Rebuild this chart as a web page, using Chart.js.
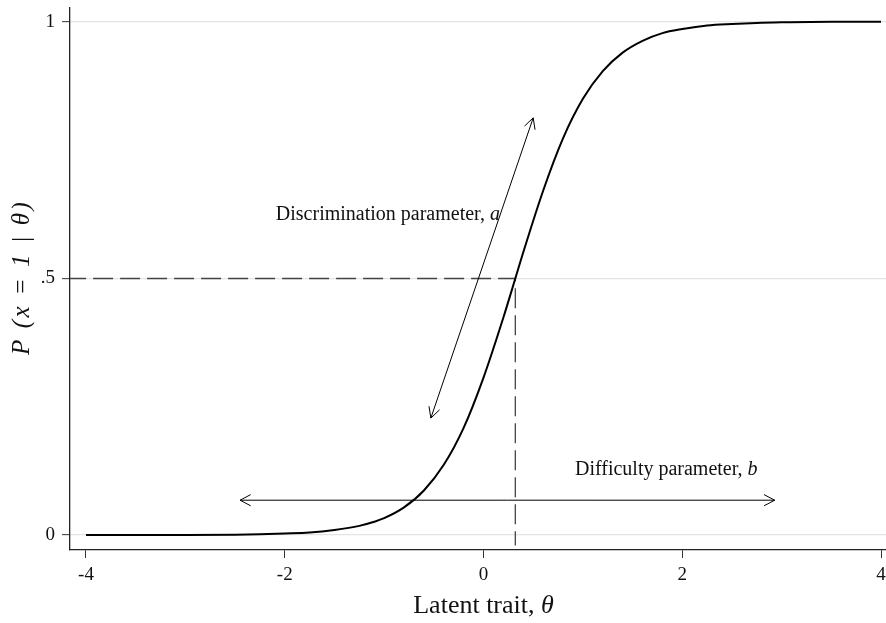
<!DOCTYPE html>
<html>
<head>
<meta charset="utf-8">
<script src="https://cdn.jsdelivr.net/npm/chart.js@4.4.1/dist/chart.umd.min.js"></script>
<style>
    html, body { margin: 0; padding: 0; background: #fff; }
    #wrap { width: 886px; height: 623px; }
</style>
</head>
<body>
<div id="wrap"><canvas id="myChart" width="886" height="623"></canvas></div>
<script>
const thetaVals = [-4, -3.5, -3, -2.5, -2.25, -2, -1.75, -1.5, -1.25, -1.1, -1, -0.8, -0.6, -0.4, -0.2, 0, 0.2, 0.32, 0.4, 0.6, 0.8, 1, 1.2, 1.4, 1.6, 1.8, 2, 2.25, 2.5, 2.75, 3, 3.5, 4];
const probVals = [0, 0.0001, 0.0002, 0.0008, 0.0015, 0.003, 0.005, 0.01, 0.018, 0.026, 0.033, 0.054, 0.087, 0.137, 0.209, 0.307, 0.424, 0.5, 0.551, 0.671, 0.773, 0.85, 0.904, 0.94, 0.963, 0.978, 0.986, 0.993, 0.996, 0.998, 0.999, 1, 1];

// dashed guide through the difficulty point
const guideX = [-4.2, 0.32, 0.32];
const guideY = [0.5, 0.5, -0.02];

// double headed arrows
const discArrowX = [-0.53, 0.50];
const discArrowY = [0.228, 0.813];
const diffArrowX = [-2.45, 2.93];
const diffArrowY = [0.068, 0.068];

const xTicks = [-4, -2, 0, 2, 4];
const xTickLabels = ['-4', '-2', '0', '2', '4'];
const yTicks = [0, 0.5, 1];
const yTickLabels = ['0', '.5', '1'];

const serif = '"Liberation Serif", "Times New Roman", serif';

function zip(xs, ys) {
    return xs.map(function (v, i) { return {x: v, y: ys[i]}; });
}

// draws a run of text pieces, some of them italic, starting at x
function drawParts(ctx, parts, x, y, size, gap) {
    let cx = x;
    gap = gap || 0;
    parts.forEach(function (p) {
        ctx.font = (p.it ? 'italic ' : '') + size + 'px ' + serif;
        if (!gap) {
            ctx.fillText(p.t, cx, y);
            cx += ctx.measureText(p.t).width;
            return;
        }
        for (const ch of p.t) {
            ctx.fillText(ch, cx, y);
            cx += ctx.measureText(ch).width + gap;
        }
    });
}

function partsWidth(ctx, parts, size, gap) {
    let w = 0;
    gap = gap || 0;
    parts.forEach(function (p) {
        ctx.font = (p.it ? 'italic ' : '') + size + 'px ' + serif;
        w += ctx.measureText(p.t).width + gap * p.t.length;
    });
    return w - gap;
}

function arrowHead(ctx, fx, fy, tx, ty) {
    const ang = Math.atan2(ty - fy, tx - fx);
    const len = 12, spread = Math.PI / 6.5;
    ctx.beginPath();
    ctx.moveTo(tx - len * Math.cos(ang - spread), ty - len * Math.sin(ang - spread));
    ctx.lineTo(tx, ty);
    ctx.lineTo(tx - len * Math.cos(ang + spread), ty - len * Math.sin(ang + spread));
    ctx.stroke();
}

function doubleArrow(ctx, x1, y1, x2, y2) {
    ctx.beginPath();
    ctx.moveTo(x1, y1);
    ctx.lineTo(x2, y2);
    ctx.stroke();
    arrowHead(ctx, x1, y1, x2, y2);
    arrowHead(ctx, x2, y2, x1, y1);
}

const overlay = {
    id: 'overlay',
    afterDatasetsDraw(chart) {
        const ctx = chart.ctx;
        const xs = chart.scales.x, ys = chart.scales.y;
        ctx.save();
        ctx.strokeStyle = '#000';
        ctx.lineWidth = 1;
        doubleArrow(ctx,
            xs.getPixelForValue(discArrowX[0]), ys.getPixelForValue(discArrowY[0]),
            xs.getPixelForValue(discArrowX[1]), ys.getPixelForValue(discArrowY[1]));
        doubleArrow(ctx,
            xs.getPixelForValue(diffArrowX[0]), ys.getPixelForValue(diffArrowY[0]),
            xs.getPixelForValue(diffArrowX[1]), ys.getPixelForValue(diffArrowY[1]));

        ctx.fillStyle = '#111';
        ctx.textBaseline = 'middle';
        ctx.textAlign = 'left';
        drawParts(ctx, [{t: 'Discrimination parameter, '}, {t: 'a', it: true}],
            xs.getPixelForValue(-2.09), ys.getPixelForValue(0.625), 20);
        drawParts(ctx, [{t: 'Difficulty parameter, '}, {t: 'b', it: true}],
            xs.getPixelForValue(0.92), ys.getPixelForValue(0.127), 20);
        ctx.restore();
    },
    afterDraw(chart) {
        const ctx = chart.ctx;
        const xs = chart.scales.x, ys = chart.scales.y;
        ctx.save();
        ctx.fillStyle = '#111';

        // tick labels
        ctx.font = '19px ' + serif;
        ctx.textBaseline = 'middle';
        ctx.textAlign = 'center';
        xTicks.forEach(function (v, i) {
            ctx.fillText(xTickLabels[i], xs.getPixelForValue(v), chart.chartArea.bottom + 25);
        });
        ctx.textAlign = 'right';
        yTicks.forEach(function (v, i) {
            ctx.fillText(yTickLabels[i], chart.chartArea.left - 15, ys.getPixelForValue(v));
        });

        // x axis title
        ctx.textAlign = 'left';
        const xt = [{t: 'Latent trait, '}, {t: '\u03b8', it: true}];
        const w = partsWidth(ctx, xt, 26);
        drawParts(ctx, xt, xs.getPixelForValue(0) - w / 2, 606, 26);

        // y axis title, rotated
        const yt = [{t: 'P (x = 1 | \u03b8)', it: true}];
        const wy = partsWidth(ctx, yt, 25, 2.5);
        ctx.translate(22, ys.getPixelForValue(0.5));
        ctx.rotate(-Math.PI / 2);
        drawParts(ctx, yt, -wy / 2, 0, 25, 2.5);
        ctx.restore();
    }
};

const config = {
    type: 'scatter',
    data: {
        datasets: [
            {
                data: zip(thetaVals, probVals),
                showLine: true,
                borderColor: '#000',
                borderWidth: 2,
                pointRadius: 0,
                cubicInterpolationMode: 'monotone'
            },
            {
                data: zip(guideX, guideY),
                showLine: true,
                borderColor: '#444',
                borderWidth: 1.3,
                borderDash: [20, 7],
                pointRadius: 0
            }
        ]
    },
    options: {
        responsive: false,
        animation: false,
        layout: {padding: {top: 8, right: 0, left: 0, bottom: 0}},
        plugins: {
            legend: {display: false},
            tooltip: {enabled: false}
        },
        scales: {
            x: {
                type: 'linear',
                min: -4.161,
                max: 4.05,
                afterBuildTicks: function (axis) {
                    axis.ticks = xTicks.map(function (v) { return {value: v}; });
                },
                afterFit: function (axis) { axis.height = 73; },
                grid: {
                    drawOnChartArea: false,
                    tickLength: 8,
                    tickColor: '#333',
                    tickWidth: 1
                },
                border: {color: '#222', width: 1.3},
                ticks: {display: false}
            },
            y: {
                type: 'linear',
                min: -0.029,
                max: 1.027,
                afterBuildTicks: function (axis) {
                    axis.ticks = yTicks.map(function (v) { return {value: v}; });
                },
                afterFit: function (axis) { axis.width = 70; },
                grid: {
                    color: '#e4e4e4',
                    lineWidth: 1.3,
                    tickLength: 8,
                    tickColor: '#333',
                    tickWidth: 1
                },
                border: {color: '#222', width: 1.3},
                ticks: {display: false}
            }
        }
    },
    plugins: [overlay]
};

const myChart = new Chart(document.getElementById('myChart').getContext('2d'), config);
</script>
</body>
</html>
